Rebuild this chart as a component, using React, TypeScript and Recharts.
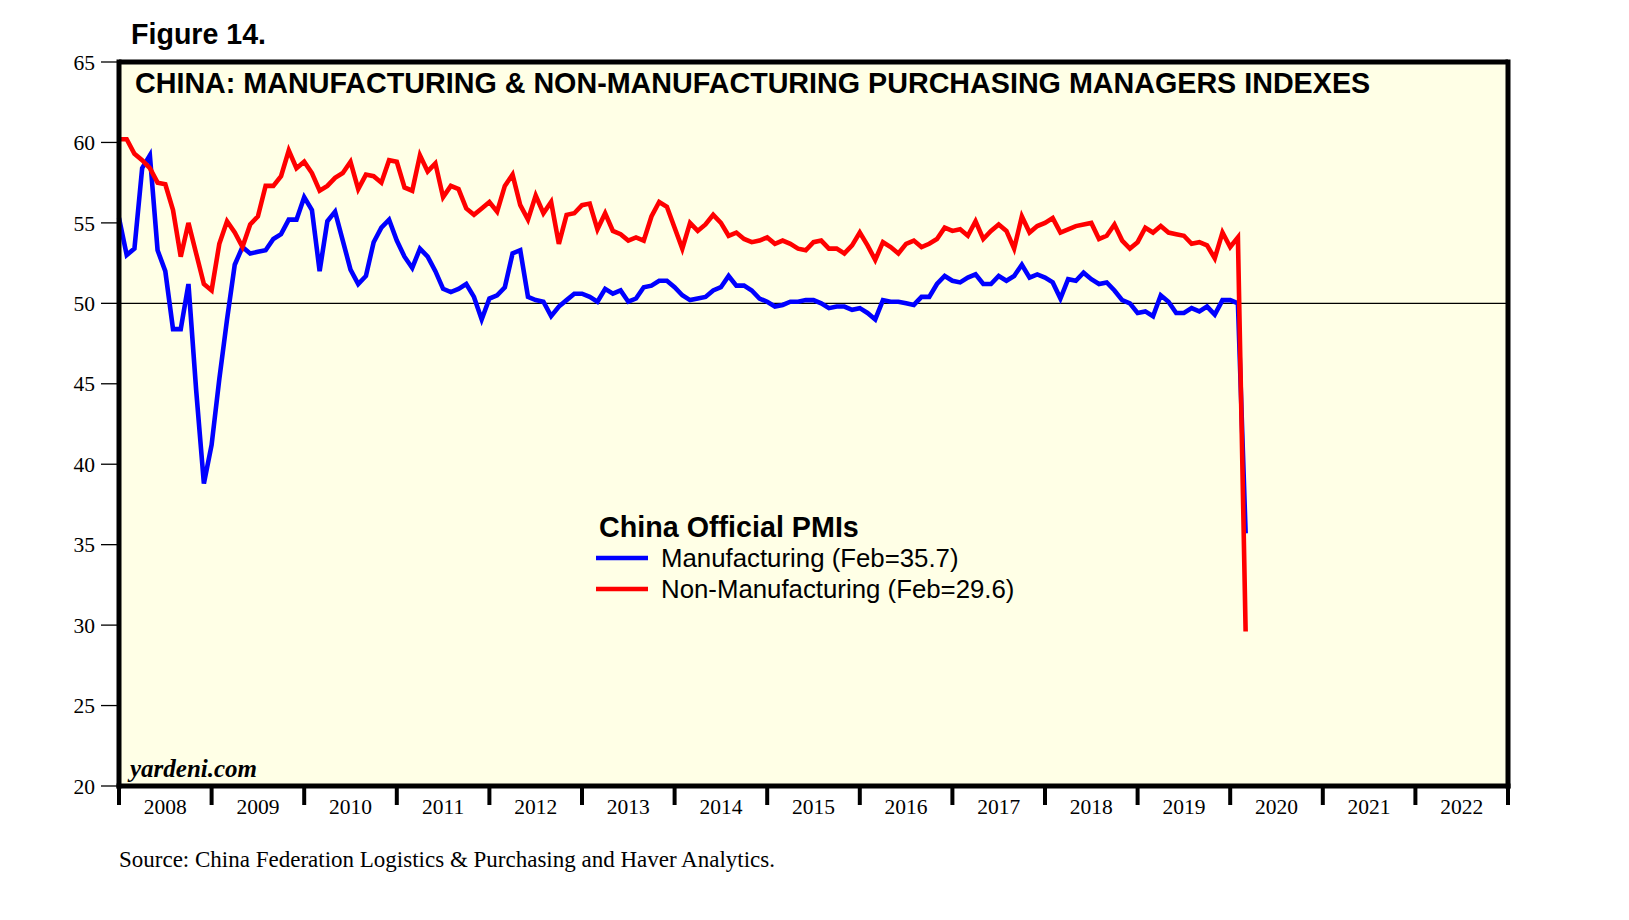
import { LineChart, Line, XAxis, YAxis, CartesianGrid, ReferenceLine } from "recharts";

// monthly, first point = Dec 2007 (plotted at the start of 2008), last = Feb 2020
const manufacturing = [
  55.3,
  53.0, 53.4, 58.4, 59.2, 53.3, 52.0, 48.4, 48.4, 51.2, 44.6, 38.8, 41.2, // 2008
  45.3, 49.0, 52.4, 53.5, 53.1, 53.2, 53.3, 54.0, 54.3, 55.2, 55.2, 56.6, // 2009
  55.8, 52.0, 55.1, 55.7, 53.9, 52.1, 51.2, 51.7, 53.8, 54.7, 55.2, 53.9, // 2010
  52.9, 52.2, 53.4, 52.9, 52.0, 50.9, 50.7, 50.9, 51.2, 50.4, 49.0, 50.3, // 2011
  50.5, 51.0, 53.1, 53.3, 50.4, 50.2, 50.1, 49.2, 49.8, 50.2, 50.6, 50.6, // 2012
  50.4, 50.1, 50.9, 50.6, 50.8, 50.1, 50.3, 51.0, 51.1, 51.4, 51.4, 51.0, // 2013
  50.5, 50.2, 50.3, 50.4, 50.8, 51.0, 51.7, 51.1, 51.1, 50.8, 50.3, 50.1, // 2014
  49.8, 49.9, 50.1, 50.1, 50.2, 50.2, 50.0, 49.7, 49.8, 49.8, 49.6, 49.7, // 2015
  49.4, 49.0, 50.2, 50.1, 50.1, 50.0, 49.9, 50.4, 50.4, 51.2, 51.7, 51.4, // 2016
  51.3, 51.6, 51.8, 51.2, 51.2, 51.7, 51.4, 51.7, 52.4, 51.6, 51.8, 51.6, // 2017
  51.3, 50.3, 51.5, 51.4, 51.9, 51.5, 51.2, 51.3, 50.8, 50.2, 50.0, 49.4, // 2018
  49.5, 49.2, 50.5, 50.1, 49.4, 49.4, 49.7, 49.5, 49.8, 49.3, 50.2, 50.2, // 2019
  50.0, 35.7, // 2020
];

const nonManufacturing = [
  60.2,
  60.2, 59.3, 58.9, 58.4, 57.5, 57.4, 55.8, 52.9, 55.0, 53.1, 51.2, 50.8, // 2008
  53.7, 55.1, 54.4, 53.5, 54.9, 55.4, 57.3, 57.3, 57.9, 59.5, 58.4, 58.8, // 2009
  58.1, 57.0, 57.3, 57.8, 58.1, 58.8, 57.1, 58.0, 57.9, 57.5, 58.9, 58.8, // 2010
  57.2, 57.0, 59.2, 58.2, 58.7, 56.6, 57.3, 57.1, 55.9, 55.5, 55.9, 56.3, // 2011
  55.7, 57.3, 58.0, 56.1, 55.2, 56.7, 55.6, 56.3, 53.7, 55.5, 55.6, 56.1, // 2012
  56.2, 54.6, 55.6, 54.5, 54.3, 53.9, 54.1, 53.9, 55.4, 56.3, 56.0, 54.7, // 2013
  53.4, 55.0, 54.5, 54.9, 55.5, 55.0, 54.2, 54.4, 54.0, 53.8, 53.9, 54.1, // 2014
  53.7, 53.9, 53.7, 53.4, 53.3, 53.8, 53.9, 53.4, 53.4, 53.1, 53.6, 54.4, // 2015
  53.6, 52.7, 53.8, 53.5, 53.1, 53.7, 53.9, 53.5, 53.7, 54.0, 54.7, 54.5, // 2016
  54.6, 54.2, 55.1, 54.0, 54.5, 54.9, 54.5, 53.4, 55.4, 54.4, 54.8, 55.0, // 2017
  55.3, 54.4, 54.6, 54.8, 54.9, 55.0, 54.0, 54.2, 54.9, 53.9, 53.4, 53.8, // 2018
  54.7, 54.4, 54.8, 54.4, 54.3, 54.2, 53.7, 53.8, 53.6, 52.8, 54.4, 53.5, // 2019
  54.1, 29.6, // 2020
];

const yearLabels = [
  "2008", "2009", "2010", "2011", "2012", "2013", "2014", "2015",
  "2016", "2017", "2018", "2019", "2020", "2021", "2022",
];
const yTicks = [20, 25, 30, 35, 40, 45, 50, 55, 60, 65];

const data = manufacturing.map((m, i) => ({ t: i, mfg: m, nonMfg: nonManufacturing[i] }));

// year boundaries (tick marks) and mid-year positions (labels)
const xTicks: number[] = [];
for (let i = 0; i <= yearLabels.length * 12; i += 6) xTicks.push(i);

const W = 1629;
const H = 920;
const sans = "'Liberation Sans', Arial, sans-serif";
const serif = "'Liberation Serif', 'Times New Roman', serif";

const YearTick = (props: any) => {
  const { x, y, payload } = props;
  const v = payload.value as number;
  if (v % 12 === 0) {
    return <line x1={x} x2={x} y1={y} y2={y + 19} stroke="#000" strokeWidth={4} />;
  }
  return (
    <text x={x} y={y + 28} textAnchor="middle" fontSize={21.5} fontFamily={serif} fill="#000">
      {yearLabels[(v - 6) / 12]}
    </text>
  );
};

export default function App() {
  const yTickStyle = { fill: "#000", fontSize: 21.5, fontFamily: serif };
  return (
    <div style={{ position: "absolute", left: 0, top: 0, width: W, height: H, background: "#fff" }}>
      <LineChart width={W} height={H} data={data} margin={{ top: 62, right: 0, bottom: 0, left: 0 }}>
        <CartesianGrid horizontal={false} vertical={false} fill="#FFFFE6" fillOpacity={1} />
        <XAxis
          dataKey="t"
          type="number"
          domain={[0, 180]}
          ticks={xTicks}
          interval={0}
          height={134}
          tickSize={0}
          tickMargin={0}
          tickLine={false}
          tick={<YearTick />}
          axisLine={{ stroke: "#000", strokeWidth: 5, strokeLinecap: "square" }}
        />
        <YAxis
          yAxisId="left"
          width={119}
          domain={[20, 65]}
          ticks={yTicks}
          interval={0}
          tickSize={18}
          tickMargin={6}
          tick={yTickStyle}
          tickLine={{ stroke: "#000", strokeWidth: 1.3 }}
          axisLine={{ stroke: "#000", strokeWidth: 5, strokeLinecap: "square" }}
        />
        <YAxis
          yAxisId="right"
          orientation="right"
          width={121}
          domain={[20, 65]}
          ticks={yTicks}
          interval={0}
          tickSize={17}
          tickMargin={7}
          tick={yTickStyle}
          tickLine={{ stroke: "#000", strokeWidth: 1.3 }}
          axisLine={{ stroke: "#000", strokeWidth: 5, strokeLinecap: "square" }}
        />
        <ReferenceLine yAxisId="left" y={50} stroke="#000" strokeWidth={1.3} />
        <ReferenceLine yAxisId="left" y={65} stroke="#000" strokeWidth={5} />
        <Line
          yAxisId="left"
          dataKey="mfg"
          stroke="#0000FF"
          strokeWidth={4.6}
          dot={false}
          isAnimationActive={false}
        />
        <Line
          yAxisId="left"
          dataKey="nonMfg"
          stroke="#FF0000"
          strokeWidth={4.6}
          dot={false}
          isAnimationActive={false}
        />
      </LineChart>

      <svg width={W} height={H} style={{ position: "absolute", left: 0, top: 0, pointerEvents: "none" }}>
        <text x={131} y={44} fontFamily={sans} fontWeight="bold" fontSize={28.6} fill="#000">
          Figure 14.
        </text>
        <text x={135} y={93} fontFamily={sans} fontWeight="bold" fontSize={28.7} fill="#000">
          CHINA: MANUFACTURING &amp; NON-MANUFACTURING PURCHASING MANAGERS INDEXES
        </text>

        <text x={599} y={537} fontFamily={sans} fontWeight="bold" fontSize={28.7} fill="#000">
          China Official PMIs
        </text>
        <line x1={596} x2={648} y1={558} y2={558} stroke="#0000FF" strokeWidth={4.6} />
        <text x={661} y={567} fontFamily={sans} fontSize={25.8} fill="#000">
          Manufacturing (Feb=35.7)
        </text>
        <line x1={596} x2={648} y1={589} y2={589} stroke="#FF0000" strokeWidth={4.6} />
        <text x={661} y={598} fontFamily={sans} fontSize={25.8} fill="#000">
          Non-Manufacturing (Feb=29.6)
        </text>

        <text x={130} y={777} fontFamily={serif} fontWeight="bold" fontStyle="italic" fontSize={25} fill="#000">
          yardeni.com
        </text>
        <text x={119} y={867} fontFamily={serif} fontSize={23} fill="#000">
          Source: China Federation Logistics &amp; Purchasing and Haver Analytics.
        </text>
      </svg>
    </div>
  );
}
